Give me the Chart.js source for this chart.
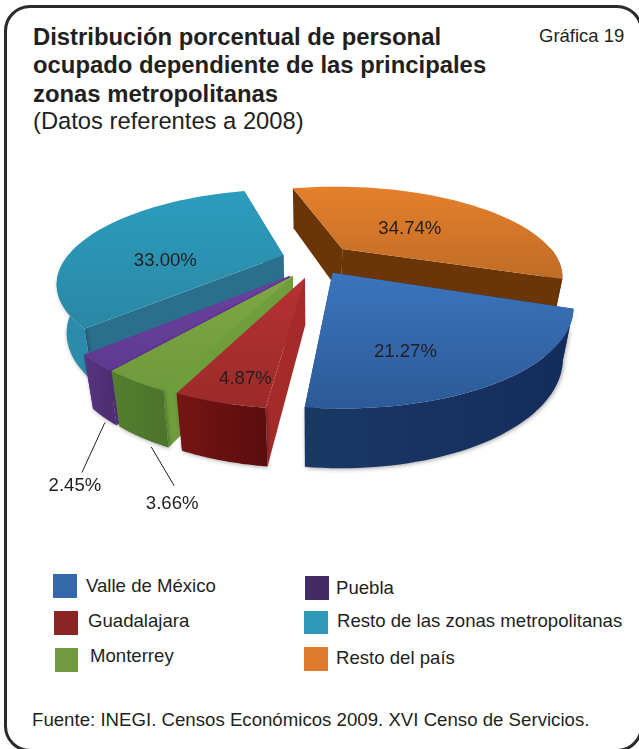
<!DOCTYPE html>
<html lang="es">
<head>
<meta charset="utf-8">
<title>Gráfica 19</title>
<script src="https://cdn.jsdelivr.net/npm/chart.js@4"></script>
<style>
    html, body { margin: 0; padding: 0; background: #fff; }
    body { position: relative; width: 639px; height: 749px; overflow: hidden;
           font-family: "Liberation Sans", Arial, sans-serif; color: #231f20; }
    #card { position: absolute; left: 4px; top: 5px; width: 633px; height: 741px;
            border: 3px solid #2b2a2a; border-radius: 26px; }
    #salesPie { position: absolute; left: 0; top: 0; }
    .txt { position: absolute; white-space: nowrap; }
    #title { left: 33px; top: 23px; font-size: 23.85px; line-height: 28.4px; font-weight: bold; }
    #period { left: 33px; top: 107px; font-size: 23.75px; line-height: 28px; }
    #chartNo { left: 539px; top: 25px; font-size: 18.5px; }
    #source { left: 32px; top: 709px; font-size: 18.65px; }
    .swatch { position: absolute; }
    .leg { position: absolute; white-space: nowrap; font-size: 18.6px; line-height: 20px; }
</style>
</head>
<body>
<div id="card"></div>
<div class="txt" id="title">Distribución porcentual de personal<br>ocupado dependiente de las principales<br>zonas metropolitanas</div>
<div class="txt" id="period">(Datos referentes a 2008)</div>
<div class="txt" id="chartNo">Gráfica 19</div>
<div id="legend"></div>
<div class="txt" id="source">Fuente: INEGI. Censos Económicos 2009. XVI Censo de Servicios.</div>
<canvas id="salesPie" width="639" height="749"></canvas>

<script>
// --- Data ---
const categories = ['Valle de México', 'Guadalajara', 'Monterrey', 'Puebla', 'Resto de las zonas metropolitanas', 'Resto del país'];
const shares = [21.27, 4.87, 3.66, 2.45, 33.00, 34.74];
const shareLabels = ['21.27%', '4.87%', '3.66%', '2.45%', '33.00%', '34.74%'];

// --- Styles ---
const legendColors = ['#3468ab', '#8b2525', '#6f9a42', '#432c66', '#2d98b8', '#de7a2c'];
const topLight = ['#3c74bd', '#b53232', '#7fa842', '#6b41a0', '#2b9dbd', '#e5802b'];
const topDark = ['#2c5a98', '#9c2a2a', '#6f9a3c', '#5f3a90', '#2b87a5', '#c06c26'];
const wallLeft = ['#1b3865', '#751515', '#537f30', '#5a347f', '#2c8cac', '#6a3507'];
const wallRight = ['#142c5c', '#5c0c0c', '#4c742b', '#4e2d72', '#2d83a0', '#6a3507'];
const faceColors = ['#1b3865', '#a52b2b', '#6f9f3c', '#5b3690', '#2a6f8b', '#6a3507'];
const wallShadow = [0.35, 0.35, 0.35, 0.35, 0.35, 0];
const sliceOffsets = [40, 24, 24, 24, 22, 45];
// extra on-screen shift of each exploded slice
const sliceShift = [[3, 3], [4, 13], [-2, 12], [-1, 13], [-3, 2], [3, 5]];

// where each label sits: fraction of radius along the slice middle, then a nudge
const labelPlace = [[0.5, 1, 33], [0.75, -1, 16], [1, 21, 57], [1, -30, 63], [0.5, -19, 17], [0.5, 0, 5]];
const leaderStart = [null, null, [9, 8], [1, 4], null, null];
const leaderEnds = [null, null, [23, 39], [-23, 50], null, null];
const legendPlace = [
    [53, 574, 24, 24, 86, 576], [54, 611, 24, 24, 88, 611], [55, 648, 23, 24, 90, 646],
    [305, 576, 24, 24, 336, 578], [304, 611, 24, 23, 337, 611], [304, 647, 24, 24, 336, 648]
];

// view of the tilted pie
const tilt = 0.397;
const perspective = 0.29;

const legendBox = document.getElementById('legend');
categories.forEach((name, i) => {
    const p = legendPlace[i];
    const sw = document.createElement('div');
    sw.className = 'swatch';
    sw.style.cssText = `left:${p[0]}px;top:${p[1]}px;width:${p[2]}px;height:${p[3]}px;background:${legendColors[i]}`;
    const tx = document.createElement('div');
    tx.className = 'leg';
    tx.style.cssText = `left:${p[4]}px;top:${p[5]}px`;
    tx.textContent = name;
    legendBox.append(sw, tx);
});

const pie3d = {
    id: 'pie3d',
    beforeDatasetsDraw(chart) {
        const ctx = chart.ctx;
        const arcs = chart.getDatasetMeta(0).data;

        const project = (arc, u, v) => {
            const s = 1 / (1 - perspective * v / arc.outerRadius);
            return [arc.x + u * s, arc.y + v * tilt * s];
        };
        const lower = (arc, p) => [p[0] - (p[0] - arc.x) * 0.04, p[1] + 40 + (p[1] - 184) * 20 / 224];
        const trace = pts => {
            ctx.beginPath();
            pts.forEach((p, k) => (k ? ctx.lineTo(p[0], p[1]) : ctx.moveTo(p[0], p[1])));
            ctx.closePath();
        };

        // back slices first, so the nearer ones overlap them
        for (let i = arcs.length - 1; i >= 0; i--) {
            const arc = arcs[i];
            const mid = (arc.startAngle + arc.endAngle) / 2;
            const ax = Math.cos(mid) * arc.options.offset;
            const ay = Math.sin(mid) * arc.options.offset;
            const apex = project(arc, ax, ay);
            const rim = [];
            const front = [];
            for (let k = 0; k <= 48; k++) {
                const th = arc.startAngle + (arc.endAngle - arc.startAngle) * k / 48;
                const p = project(arc, ax + arc.outerRadius * Math.cos(th), ay + arc.outerRadius * Math.sin(th));
                rim.push(p);
                if (Math.sin(th) > -0.02) front.push(p);
            }
            const apexLow = lower(arc, apex);

            ctx.save();
            ctx.translate(sliceShift[i][0], sliceShift[i][1]);

            // the two cut faces
            ctx.fillStyle = faceColors[i];
            trace([apex, rim[0], lower(arc, rim[0]), apexLow]);
            ctx.fill();
            trace([apex, rim[48], lower(arc, rim[48]), apexLow]);
            ctx.fill();

            // the rounded wall, only the part turned to the viewer
            if (front.length > 1) {
                const xs = rim.map(p => p[0]);
                const wall = ctx.createLinearGradient(Math.min(...xs), 0, Math.max(...xs), 0);
                wall.addColorStop(0, wallLeft[i]);
                wall.addColorStop(1, wallRight[i]);
                ctx.save();
                ctx.shadowColor = `rgba(0,0,0,${wallShadow[i]})`;
                ctx.shadowBlur = 4;
                ctx.shadowOffsetX = 1;
                ctx.shadowOffsetY = 1;
                ctx.fillStyle = wall;
                trace(front.concat(front.map(p => lower(arc, p)).reverse()));
                ctx.fill();
                ctx.restore();
            }

            const ys = rim.concat([apex]).map(p => p[1]);
            const top = ctx.createLinearGradient(0, Math.min(...ys), 0, Math.max(...ys));
            top.addColorStop(0, topLight[i]);
            top.addColorStop(1, topDark[i]);
            ctx.fillStyle = top;
            trace([apex].concat(rim));
            ctx.fill();
            ctx.restore();
        }

        // percentage labels and the two leader lines
        ctx.font = '18.6px "Liberation Sans", Arial, sans-serif';
        ctx.textAlign = 'center';
        ctx.textBaseline = 'middle';
        arcs.forEach((arc, i) => {
            const mid = (arc.startAngle + arc.endAngle) / 2;
            const place = labelPlace[i];
            const r = arc.options.offset + arc.outerRadius * place[0];
            let p = project(arc, Math.cos(mid) * r, Math.sin(mid) * r);
            p = [p[0] + sliceShift[i][0], p[1] + sliceShift[i][1]];
            if (leaderEnds[i]) {
                p = lower(arc, p);
                p = [p[0] + leaderStart[i][0], p[1] + leaderStart[i][1]];
                ctx.strokeStyle = '#231f20';
                ctx.lineWidth = 1;
                ctx.beginPath();
                ctx.moveTo(p[0], p[1]);
                ctx.lineTo(p[0] + leaderEnds[i][0], p[1] + leaderEnds[i][1]);
                ctx.stroke();
            }
            ctx.fillStyle = '#231f20';
            ctx.fillText(shareLabels[i], p[0] + place[1], p[1] + place[2]);
        });
        return false;
    }
};

new Chart(document.getElementById('salesPie').getContext('2d'), {
    type: 'pie',
    data: {
        labels: categories,
        datasets: [{
            data: shares,
            backgroundColor: legendColors,
            borderWidth: 0,
            offset: sliceOffsets
        }]
    },
    options: {
        responsive: false,
        animation: false,
        rotation: 110,
        layout: { padding: { left: 68, top: 16, right: 92, bottom: 254 } },
        plugins: { legend: { display: false }, tooltip: { enabled: false } }
    },
    plugins: [pie3d]
});
</script>
</body>
</html>
